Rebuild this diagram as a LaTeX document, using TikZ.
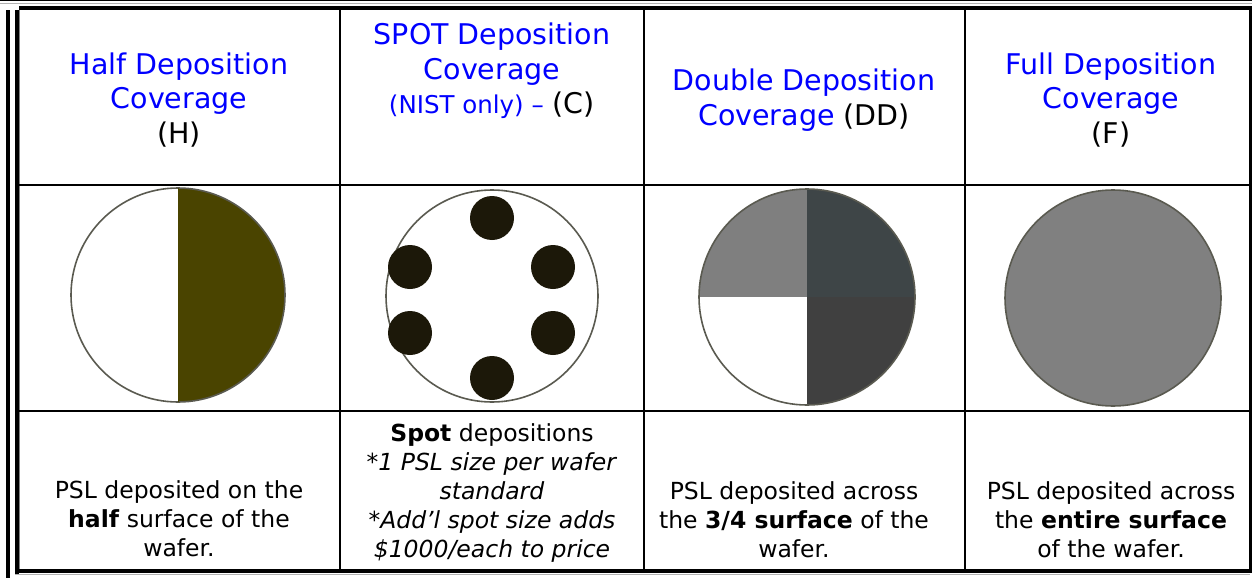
\documentclass[tikz,border=0pt]{standalone}
\usepackage{fontspec}
\setmainfont{DejaVu Sans}
\definecolor{halfolive}{HTML}{4A4400}
\definecolor{rimgray}{HTML}{5A5A50}
\definecolor{spotdark}{HTML}{1C1809}
\definecolor{ddlight}{HTML}{7F7F7F}
\definecolor{ddslate}{HTML}{3E4547}
\definecolor{dddark}{HTML}{404040}
\definecolor{fullgray}{HTML}{808080}
\tikzset{
  headtext/.style={text=blue,font=\fontsize{28.5}{34.5}\selectfont},
  bodytext/.style={font=\fontsize{23.5}{29.2}\selectfont},
  rim/.style={draw=rimgray,line width=1.6pt},
  rule/.style={line width=2pt},
}
\begin{document}
\begin{tikzpicture}
  [x=1pt,y=-1pt,every node/.style={align=center,inner sep=0pt}]
\useasboundingbox (0,0) rectangle (1252,578);
% frame of the table
  \fill (0,0) rectangle (1252,1.5);
  \draw[gray!60,line width=1pt] (0,3.5) -- (1252,3.5);
  \fill (19,6) rectangle (1252,10);
  \fill (6,10) rectangle (10,578);
  \fill (15,10) rectangle (19,574);
  \fill (15,569) rectangle (1250,573);
  \draw[gray!60,line width=1pt] (15,574.5) -- (1250,574.5);
  \fill (1249,8) rectangle (1252,573);
  \draw[gray,line width=1pt] (19.5,10) -- (19.5,569);

  % rows and columns
  \draw[rule] (19,185) -- (1249,185);
  \draw[rule] (19,411) -- (1249,411);
  \foreach \x in {339.5,644,965}
    \draw[rule] (\x,10) -- (\x,570);

  % headers
  \node[headtext] (h1) at (179,100) {Half Deposition\\Coverage\\{\color{black}(H)}};
  \node[headtext] (h2) at (492,71) {\fontsize{28.5}{38}\selectfont SPOT Deposition\\Coverage\\{\fontsize{24.5}{36}\selectfont(NIST only) –} {\color{black}(C)}};
  \node[headtext] (h3) at (804,100) {\fontsize{28.5}{37}\selectfont Double Deposition\\Coverage {\color{black}(DD)}};
  \node[headtext] (h4) at (1111,100) {Full Deposition\\Coverage\\{\color{black}(F)}};

  % wafer H : half
  \begin{scope}
    \clip (178,295) circle (107pt);
    \fill[halfolive] (178,185) rectangle (290,405);
  \end{scope}
  \draw[rim] (178,295) circle (107pt);
  \draw[halfolive,line width=1pt] (178,188) -- (178,402);

  % wafer C : spots
  \draw[rim,fill=white] (492,296) circle (106pt);
  \foreach \sx/\sy in {492/218, 410/267, 553/267, 410/333, 553/333, 492/378}
    \fill[spotdark] (\sx,\sy) circle (22pt);

  % wafer DD : quarters
  \begin{scope}
    \clip (807,297) circle (108pt);
    \fill[ddlight] (695,185) rectangle (807,297);
    \fill[ddslate] (807,185) rectangle (920,297);
    \fill[dddark] (807,297) rectangle (920,410);
  \end{scope}
  \draw[rim] (807,297) circle (108pt);

  % wafer F : full
  \draw[rim,fill=fullgray] (1113,298) circle (108pt);

  % descriptions
  \node[bodytext] (b1) at (179,519) {PSL deposited on the\\\textbf{half} surface of the\\wafer.};
  \node[bodytext] (b2) at (492,493) {\textbf{Spot} depositions\\\textit{*1 PSL size per wafer}\\\textit{standard}\\\textit{*Add’l spot size adds}\\\textit{\$1000/each to price}};
  \node[bodytext] (b3) at (794,520) {PSL deposited across\\the \textbf{3/4 surface} of the\\wafer.};
  \node[bodytext] (b4) at (1111,520) {PSL deposited across\\the \textbf{entire surface}\\of the wafer.};
\end{tikzpicture}
\end{document}
